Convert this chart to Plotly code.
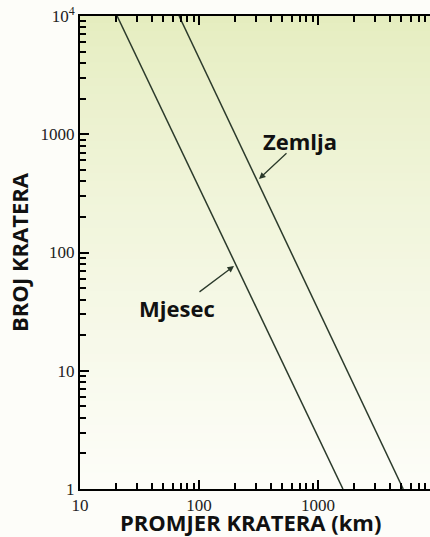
import plotly.graph_objects as go
import numpy as np

# Data
moon_diam = [20.5, 1620]      # km
moon_count = [1e4, 1]
earth_diam = [68, 5200]       # km
earth_count = [1e4, 1]

x_tickvals = [10, 100, 1000]
x_ticktext = ["10", "100", "1000"]
y_tickvals = [1, 10, 100, 1000, 10000]
y_ticktext = ["1", "10", "100", "1000", "10<sup>4</sup>"]

line_col = "#2b3a2b"

fig = go.Figure()
fig.add_trace(go.Scatter(x=moon_diam, y=moon_count, mode="lines",
                         line=dict(color=line_col, width=1.5), name="Mjesec",
                         showlegend=False))
fig.add_trace(go.Scatter(x=earth_diam, y=earth_count, mode="lines",
                         line=dict(color=line_col, width=1.5), name="Zemlja",
                         showlegend=False))

# gradient background inside plot area
top = np.array([0xe5, 0xed, 0xbf])
bot = np.array([0xfd, 0xfd, 0xf8])
n = 60
shapes = []
for i in range(n):
    t = i / (n - 1)
    f = t ** 0.8
    c = top * (1 - f) + bot * f
    y1 = 1 - i / n
    y0 = 1 - (i + 1) / n
    shapes.append(dict(type="rect", xref="paper", yref="paper", x0=0, x1=1,
                       y0=y0, y1=y1 + 0.002, line=dict(width=0),
                       fillcolor="rgb(%d,%d,%d)" % tuple(c.round()), layer="below"))

tickfont = dict(family="Liberation Serif, Times New Roman, serif", size=17, color="#222")
titlefont = dict(family="Open Sans, sans-serif", size=22, color="#111")
labelfont = dict(family="Open Sans, sans-serif", size=22, color="#111")

fig.update_layout(
    width=430, height=537,
    margin=dict(l=80, r=0, t=16, b=48),
    paper_bgcolor="#fdfdf9", plot_bgcolor="#fdfdf8",
    shapes=shapes,
    xaxis=dict(type="log", range=[1, 3.941], tickmode="array",
               tickvals=x_tickvals, ticktext=x_ticktext,
               ticks="inside", ticklen=9, tickwidth=2, tickcolor="black",
               showline=True, linecolor="black", linewidth=2, mirror="allticks",
               showgrid=False, zeroline=False, tickfont=tickfont, automargin=False,
               minor=dict(ticks="inside", dtick="D1", ticklen=6,
                          tickwidth=1.5, tickcolor="black", showgrid=False)),
    yaxis=dict(type="log", range=[0, 4], tickmode="array",
               tickvals=y_tickvals, ticktext=y_ticktext,
               ticks="inside", ticklen=9, tickwidth=2, tickcolor="black",
               showline=True, linecolor="black", linewidth=2, mirror=False,
               showgrid=False, zeroline=False, tickfont=tickfont, automargin=False,
               minor=dict(ticks="inside", dtick="D1", ticklen=6,
                          tickwidth=1.5, tickcolor="black", showgrid=False),
               title=dict(text="<b>BROJ KRATERA</b>", font=titlefont, standoff=6)),
    annotations=[
        dict(x=0.5, y=-0.0698, xref="paper", yref="paper", xanchor="center",
             yanchor="middle", text="<b>PROMJER KRATERA (km)</b>", showarrow=False,
             font=titlefont, xshift=-5),
        dict(x=2.849, y=2.943, xref="x", yref="y", text="<b>Zemlja</b>", showarrow=False,
             font=labelfont),
        dict(x=1.815, y=1.531, xref="x", yref="y", text="<b>Mjesec</b>", showarrow=False,
             font=labelfont),
        dict(x=2.504, y=2.622, xref="x", yref="y", ax=29, ay=-27, text="",
             showarrow=True, arrowhead=2, arrowsize=1, arrowwidth=1.3, arrowcolor=line_col),
        dict(x=2.294, y=1.886, xref="x", yref="y", ax=-36, ay=27, text="",
             showarrow=True, arrowhead=2, arrowsize=1, arrowwidth=1.3, arrowcolor=line_col),
    ],
)

fig.write_html("out.html", config={"displayModeBar": False},
               post_script="document.body.style.margin='0';document.body.style.overflow='hidden';")
